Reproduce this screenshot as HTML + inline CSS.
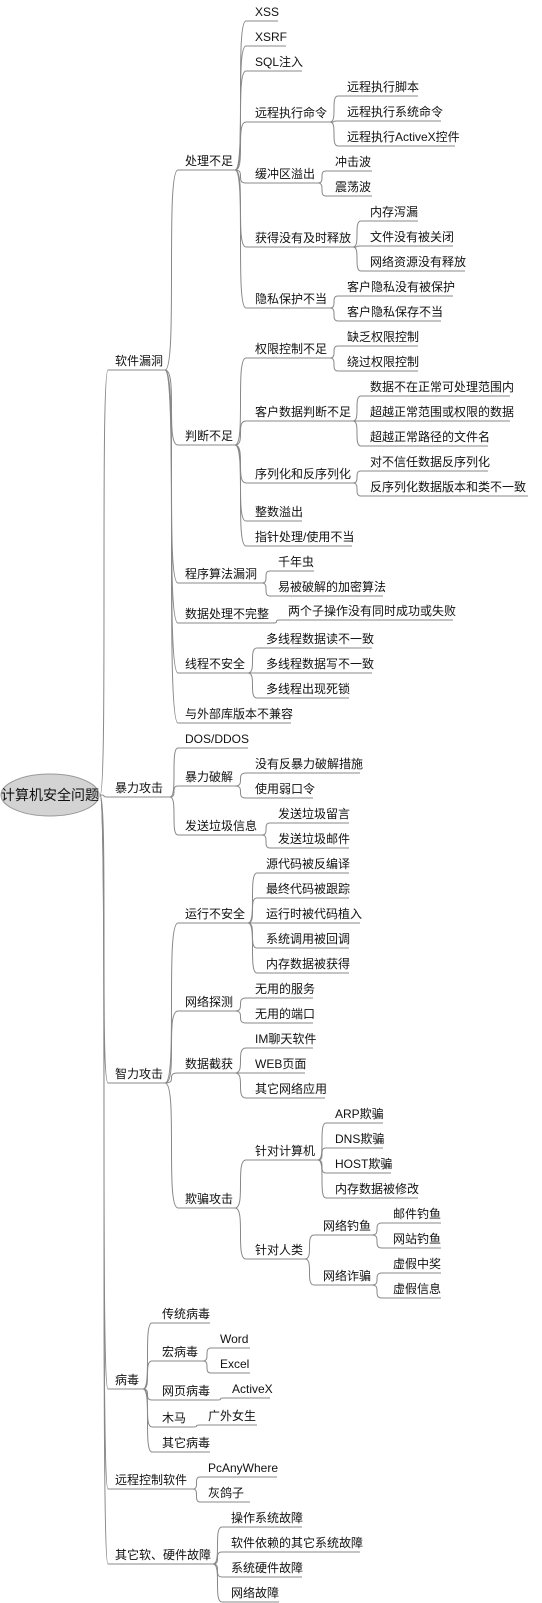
<!DOCTYPE html>
<html><head><meta charset="utf-8"><style>
html,body{margin:0;padding:0;background:#fff;width:542px;height:1603px;overflow:hidden}
svg{display:block}
text{font-family:"Liberation Sans","Noto Sans CJK SC",sans-serif;font-size:12px;fill:#111}
path{fill:none;stroke:#888;stroke-width:1}
</style></head><body>
<svg width="542" height="1603" viewBox="0 0 542 1603" xmlns="http://www.w3.org/2000/svg">
<!-- root -->
<ellipse cx="50" cy="795" rx="49" ry="21" fill="#d3d3d3" stroke="#999"/>
<text x="50" y="800" text-anchor="middle" style="font-size:14px">计算机安全问题</text>

<!-- level1 -->
<path d="M100 795 C108 795 100 370 108 370 L165 370"/><text x="115" y="365">软件漏洞</text>
<path d="M100 795 C108 795 100 797 108 797 L170 797"/><text x="115" y="792">暴力攻击</text>
<path d="M100 795 C108 795 100 1083 108 1083 L165 1083"/><text x="115" y="1078">智力攻击</text>
<path d="M100 795 C108 795 100 1389 108 1389 L143 1389"/><text x="115" y="1384">病毒</text>
<path d="M100 795 C108 795 100 1489 108 1489 L193 1489"/><text x="115" y="1484">远程控制软件</text>
<path d="M100 795 C108 795 100 1564 108 1564 L213 1564"/><text x="115" y="1559">其它软、硬件故障</text>

<!-- 软件漏洞 children -->
<path d="M165 370 C178 370 165 170 178 170 L235 170"/><text x="185" y="165">处理不足</text>
<path d="M165 370 C178 370 165 445 178 445 L235 445"/><text x="185" y="440">判断不足</text>
<path d="M165 370 C178 370 165 583 178 583 L262 583"/><text x="185" y="578">程序算法漏洞</text>
<path d="M165 370 C178 370 165 623 178 623 L273 623"/><text x="185" y="618">数据处理不完整</text>
<path d="M165 370 C178 370 165 673 178 673 L248 673"/><text x="185" y="668">线程不安全</text>
<path d="M165 370 C178 370 165 723 178 723 L291 723"/><text x="185" y="718">与外部库版本不兼容</text>

<!-- 处理不足 -->
<path d="M235 170 C246 170 235 21 246 21 L278 21"/><text x="255" y="16">XSS</text>
<path d="M235 170 C246 170 235 46 246 46 L286 46"/><text x="255" y="41">XSRF</text>
<path d="M235 170 C246 170 235 71 246 71 L302 71"/><text x="255" y="66">SQL注入</text>
<path d="M235 170 C246 170 235 122 246 122 L330 122"/><text x="255" y="117">远程执行命令</text>
<path d="M235 170 C246 170 235 183 246 183 L318 183"/><text x="255" y="178">缓冲区溢出</text>
<path d="M235 170 C246 170 235 247 246 247 L353 247"/><text x="255" y="242">获得没有及时释放</text>
<path d="M235 170 C246 170 235 308 246 308 L330 308"/><text x="255" y="303">隐私保护不当</text>

<path d="M330 122 C338 122 330 96 338 96 L418 96"/><text x="347" y="91">远程执行脚本</text>
<path d="M330 122 C338 122 330 121 338 121 L441 121"/><text x="347" y="116">远程执行系统命令</text>
<path d="M330 122 C338 122 330 146 338 146 L455 146"/><text x="347" y="141">远程执行ActiveX控件</text>

<path d="M318 183 C326 183 318 171 326 171 L372 171"/><text x="335" y="166">冲击波</text>
<path d="M318 183 C326 183 318 196 326 196 L372 196"/><text x="335" y="191">震荡波</text>

<path d="M353 247 C361 247 353 221 361 221 L418 221"/><text x="370" y="216">内存泻漏</text>
<path d="M353 247 C361 247 353 246 361 246 L453 246"/><text x="370" y="241">文件没有被关闭</text>
<path d="M353 247 C361 247 353 271 361 271 L465 271"/><text x="370" y="266">网络资源没有释放</text>

<path d="M330 308 C338 308 330 296 338 296 L453 296"/><text x="347" y="291">客户隐私没有被保护</text>
<path d="M330 308 C338 308 330 321 338 321 L441 321"/><text x="347" y="316">客户隐私保存不当</text>

<!-- 判断不足 -->
<path d="M235 445 C246 445 235 358 246 358 L330 358"/><text x="255" y="353">权限控制不足</text>
<path d="M235 445 C246 445 235 421 246 421 L353 421"/><text x="255" y="416">客户数据判断不足</text>
<path d="M235 445 C246 445 235 483 246 483 L353 483"/><text x="255" y="478">序列化和反序列化</text>
<path d="M235 445 C246 445 235 521 246 521 L302 521"/><text x="255" y="516">整数溢出</text>
<path d="M235 445 C246 445 235 546 246 546 L352 546"/><text x="255" y="541">指针处理/使用不当</text>

<path d="M330 358 C338 358 330 346 338 346 L418 346"/><text x="347" y="341">缺乏权限控制</text>
<path d="M330 358 C338 358 330 371 338 371 L418 371"/><text x="347" y="366">绕过权限控制</text>

<path d="M353 421 C361 421 353 396 361 396 L510 396"/><text x="370" y="391">数据不在正常可处理范围内</text>
<path d="M353 421 C361 421 353 421 361 421 L510 421"/><text x="370" y="416">超越正常范围或权限的数据</text>
<path d="M353 421 C361 421 353 446 361 446 L488 446"/><text x="370" y="441">超越正常路径的文件名</text>

<path d="M353 483 C361 483 353 471 361 471 L488 471"/><text x="370" y="466">对不信任数据反序列化</text>
<path d="M353 483 C361 483 353 496 361 496 L528 496"/><text x="370" y="491">反序列化数据版本和类不一致</text>

<path d="M262 583 C270 583 262 571 270 571 L314 571"/><text x="278" y="566">千年虫</text>
<path d="M262 583 C270 583 262 596 270 596 L383 596"/><text x="278" y="591">易被破解的加密算法</text>

<path d="M273 623 C280 623 273 620 280 620 L453 620"/><text x="288" y="615">两个子操作没有同时成功或失败</text>

<path d="M248 673 C257 673 248 648 257 648 L372 648"/><text x="266" y="643">多线程数据读不一致</text>
<path d="M248 673 C257 673 248 673 257 673 L372 673"/><text x="266" y="668">多线程数据写不一致</text>
<path d="M248 673 C257 673 248 698 257 698 L349 698"/><text x="266" y="693">多线程出现死锁</text>

<!-- 暴力攻击 -->
<path d="M170 797 C178 797 170 748 178 748 L248 748"/><text x="185" y="743">DOS/DDOS</text>
<path d="M170 797 C178 797 170 786 178 786 L235 786"/><text x="185" y="781">暴力破解</text>
<path d="M170 797 C178 797 170 835 178 835 L262 835"/><text x="185" y="830">发送垃圾信息</text>

<path d="M235 786 C246 786 235 773 246 773 L360 773"/><text x="255" y="768">没有反暴力破解措施</text>
<path d="M235 786 C246 786 235 798 246 798 L313 798"/><text x="255" y="793">使用弱口令</text>

<path d="M262 835 C270 835 262 823 270 823 L349 823"/><text x="278" y="818">发送垃圾留言</text>
<path d="M262 835 C270 835 262 848 270 848 L349 848"/><text x="278" y="843">发送垃圾邮件</text>

<!-- 智力攻击 -->
<path d="M165 1083 C178 1083 165 923 178 923 L248 923"/><text x="185" y="918">运行不安全</text>
<path d="M165 1083 C178 1083 165 1011 178 1011 L235 1011"/><text x="185" y="1006">网络探测</text>
<path d="M165 1083 C178 1083 165 1073 178 1073 L235 1073"/><text x="185" y="1068">数据截获</text>
<path d="M165 1083 C178 1083 165 1208 178 1208 L235 1208"/><text x="185" y="1203">欺骗攻击</text>

<path d="M248 923 C257 923 248 873 257 873 L349 873"/><text x="266" y="868">源代码被反编译</text>
<path d="M248 923 C257 923 248 898 257 898 L349 898"/><text x="266" y="893">最终代码被跟踪</text>
<path d="M248 923 C257 923 248 923 257 923 L360 923"/><text x="266" y="918">运行时被代码植入</text>
<path d="M248 923 C257 923 248 948 257 948 L349 948"/><text x="266" y="943">系统调用被回调</text>
<path d="M248 923 C257 923 248 973 257 973 L349 973"/><text x="266" y="968">内存数据被获得</text>

<path d="M235 1011 C246 1011 235 998 246 998 L313 998"/><text x="255" y="993">无用的服务</text>
<path d="M235 1011 C246 1011 235 1023 246 1023 L313 1023"/><text x="255" y="1018">无用的端口</text>

<path d="M235 1073 C246 1073 235 1048 246 1048 L313 1048"/><text x="255" y="1043">IM聊天软件</text>
<path d="M235 1073 C246 1073 235 1073 246 1073 L305 1073"/><text x="255" y="1068">WEB页面</text>
<path d="M235 1073 C246 1073 235 1098 246 1098 L325 1098"/><text x="255" y="1093">其它网络应用</text>

<path d="M235 1208 C246 1208 235 1160 246 1160 L318 1160"/><text x="255" y="1155">针对计算机</text>
<path d="M235 1208 C246 1208 235 1259 246 1259 L305 1259"/><text x="255" y="1254">针对人类</text>

<path d="M318 1160 C326 1160 318 1123 326 1123 L383 1123"/><text x="335" y="1118">ARP欺骗</text>
<path d="M318 1160 C326 1160 318 1148 326 1148 L383 1148"/><text x="335" y="1143">DNS欺骗</text>
<path d="M318 1160 C326 1160 318 1173 326 1173 L391 1173"/><text x="335" y="1168">HOST欺骗</text>
<path d="M318 1160 C326 1160 318 1198 326 1198 L418 1198"/><text x="335" y="1193">内存数据被修改</text>

<path d="M305 1259 C314 1259 305 1235 314 1235 L372 1235"/><text x="323" y="1230">网络钓鱼</text>
<path d="M305 1259 C314 1259 305 1285 314 1285 L372 1285"/><text x="323" y="1280">网络诈骗</text>

<path d="M372 1235 C382 1235 372 1223 382 1223 L441 1223"/><text x="393" y="1218">邮件钓鱼</text>
<path d="M372 1235 C382 1235 372 1248 382 1248 L441 1248"/><text x="393" y="1243">网站钓鱼</text>
<path d="M372 1285 C382 1285 372 1273 382 1273 L441 1273"/><text x="393" y="1268">虚假中奖</text>
<path d="M372 1285 C382 1285 372 1298 382 1298 L441 1298"/><text x="393" y="1293">虚假信息</text>

<!-- 病毒 -->
<path d="M143 1389 C152 1389 143 1323 152 1323 L210 1323"/><text x="162" y="1318">传统病毒</text>
<path d="M143 1389 C152 1389 143 1361 152 1361 L203 1361"/><text x="162" y="1356">宏病毒</text>
<path d="M143 1389 C152 1389 143 1400 152 1400 L217 1400"/><text x="162" y="1395">网页病毒</text>
<path d="M143 1389 C152 1389 143 1427 152 1427 L193 1427"/><text x="162" y="1422">木马</text>
<path d="M143 1389 C152 1389 143 1452 152 1452 L210 1452"/><text x="162" y="1447">其它病毒</text>

<path d="M203 1361 C211 1361 203 1348 211 1348 L250 1348"/><text x="220" y="1343">Word</text>
<path d="M203 1361 C211 1361 203 1373 211 1373 L250 1373"/><text x="220" y="1368">Excel</text>
<path d="M217 1400 C224 1400 217 1398 224 1398 L270 1398"/><text x="232" y="1393">ActiveX</text>
<path d="M193 1427 C200 1427 193 1425 200 1425 L257 1425"/><text x="208" y="1420">广外女生</text>

<!-- 远程控制软件 -->
<path d="M193 1489 C200 1489 193 1477 200 1477 L277 1477"/><text x="208" y="1472">PcAnyWhere</text>
<path d="M193 1489 C200 1489 193 1502 200 1502 L250 1502"/><text x="208" y="1497">灰鸽子</text>

<!-- 其它软、硬件故障 -->
<path d="M213 1564 C222 1564 213 1527 222 1527 L302 1527"/><text x="231" y="1522">操作系统故障</text>
<path d="M213 1564 C222 1564 213 1552 222 1552 L360 1552"/><text x="231" y="1547">软件依赖的其它系统故障</text>
<path d="M213 1564 C222 1564 213 1577 222 1577 L302 1577"/><text x="231" y="1572">系统硬件故障</text>
<path d="M213 1564 C222 1564 213 1602 222 1602 L279 1602"/><text x="231" y="1597">网络故障</text>
</svg>
</body></html>
